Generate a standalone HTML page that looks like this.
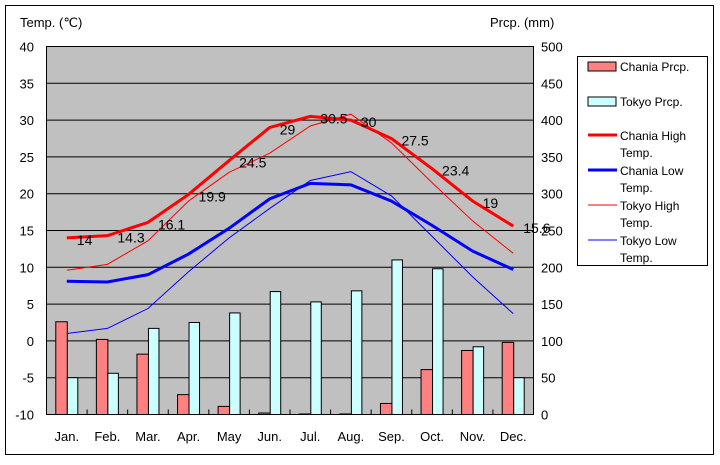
<!DOCTYPE html>
<html><head><meta charset="utf-8"><style>
html,body{margin:0;padding:0;background:#fff;}
svg text{font-family:"Liberation Sans",sans-serif;}
</style></head><body>
<svg width="720" height="460" xmlns="http://www.w3.org/2000/svg">
<rect x="0" y="0" width="720" height="460" fill="#fff"/>
<rect x="5.5" y="5.5" width="708" height="449" fill="none" stroke="#000" stroke-width="1"/>
<text x="20" y="27" font-size="13">Temp. (℃)</text>
<text x="490" y="27" font-size="13">Prcp. (mm)</text>
<rect x="46.5" y="46.5" width="487" height="368" fill="#c0c0c0" stroke="#000"/>
<g id="grid" stroke="#000" stroke-width="1"></g>
<g id="axis" font-size="13"></g>
<g id="bars"></g>
<g id="lines" fill="none"></g>
<g id="labels" font-size="14"></g>
<rect x="577.5" y="56.5" width="130" height="209" fill="#fff" stroke="#000"/>
<rect x="588" y="62" width="28" height="9" fill="#ff8080" stroke="#000"/>
<text x="620" y="71" font-size="12">Chania Prcp.</text>
<rect x="588" y="97" width="28" height="9" fill="#ccffff" stroke="#000"/>
<text x="620" y="106" font-size="12">Tokyo Prcp.</text>
<line x1="588" y1="135" x2="617" y2="135" stroke="#f00" stroke-width="3"/>
<text x="620" y="140" font-size="12">Chania High</text><text x="620" y="157" font-size="12">Temp.</text>
<line x1="588" y1="170" x2="617" y2="170" stroke="#00f" stroke-width="3"/>
<text x="620" y="175" font-size="12">Chania Low</text><text x="620" y="192" font-size="12">Temp.</text>
<line x1="588" y1="205" x2="617" y2="205" stroke="#f00" stroke-width="1"/>
<text x="620" y="210" font-size="12">Tokyo High</text><text x="620" y="227" font-size="12">Temp.</text>
<line x1="588" y1="240" x2="617" y2="240" stroke="#00f" stroke-width="1"/>
<text x="620" y="245" font-size="12">Tokyo Low</text><text x="620" y="262" font-size="12">Temp.</text>
<script>
const ns="http://www.w3.org/2000/svg";
function el(p,t,a,txt){const e=document.createElementNS(ns,t);for(const k in a)e.setAttribute(k,a[k]);if(txt!==undefined)e.textContent=txt;document.getElementById(p).appendChild(e);}
const L=46.5,R=533.5,T=46.5,B=414.5,sw=(R-L)/12;
const ty=t=>T+(40-t)*7.36, py=p=>B-p*0.736, cx=i=>L+sw*(i+0.5);
for(let t=-5;t<=35;t+=5)el("grid","line",{x1:L,x2:R,y1:ty(t),y2:ty(t)});
for(let i=1;i<12;i++)el("grid","line",{x1:L+sw*i,x2:L+sw*i,y1:B-5,y2:B});
for(let t=-10;t<=40;t+=5){el("axis","text",{x:34,y:ty(t)+5,"text-anchor":"end"},t);el("axis","text",{x:541,y:ty(t)+5},(t+10)*10);}
const m=["Jan.","Feb.","Mar.","Apr.","May","Jun.","Jul.","Aug.","Sep.","Oct.","Nov.","Dec."];
m.forEach((s,i)=>el("axis","text",{x:cx(i),y:441,"text-anchor":"middle"},s));
const cp=[126,102,82,27,11,2,0.7,0.7,15,61,87,98],tp=[50,56,117,125,138,167,153,168,210,198,92,50];
for(let i=0;i<12;i++){
el("bars","rect",{x:cx(i)-11,y:py(cp[i]),width:11.5,height:B-py(cp[i]),fill:"#ff8080",stroke:"#000"});
el("bars","rect",{x:cx(i)+0.5,y:py(tp[i]),width:10.5,height:B-py(tp[i]),fill:"#ccffff",stroke:"#000"});}
const ch=[14,14.3,16.1,19.9,24.5,29,30.5,30,27.5,23.4,19,15.6],
cl=[8.1,8,9,11.8,15.3,19.3,21.4,21.2,19,15.7,12.2,9.7],
th=[9.6,10.4,13.6,19,22.9,25.5,29.2,30.8,26.9,21.5,16.3,11.9],
tl=[1,1.7,4.4,9.4,14,18,21.8,23,19.7,14.2,8.7,3.7];
const pts=a=>a.map((v,i)=>cx(i)+","+ty(v)).join(" ");
el("lines","polyline",{points:pts(th),stroke:"#f00","stroke-width":1});
el("lines","polyline",{points:pts(tl),stroke:"#00f","stroke-width":1});
el("lines","polyline",{points:pts(ch),stroke:"#f00","stroke-width":3});
el("lines","polyline",{points:pts(cl),stroke:"#00f","stroke-width":3});
ch.forEach((v,i)=>el("labels","text",{x:cx(i)+10,y:ty(v)+7},v));
</script>
</svg>
</body></html>
